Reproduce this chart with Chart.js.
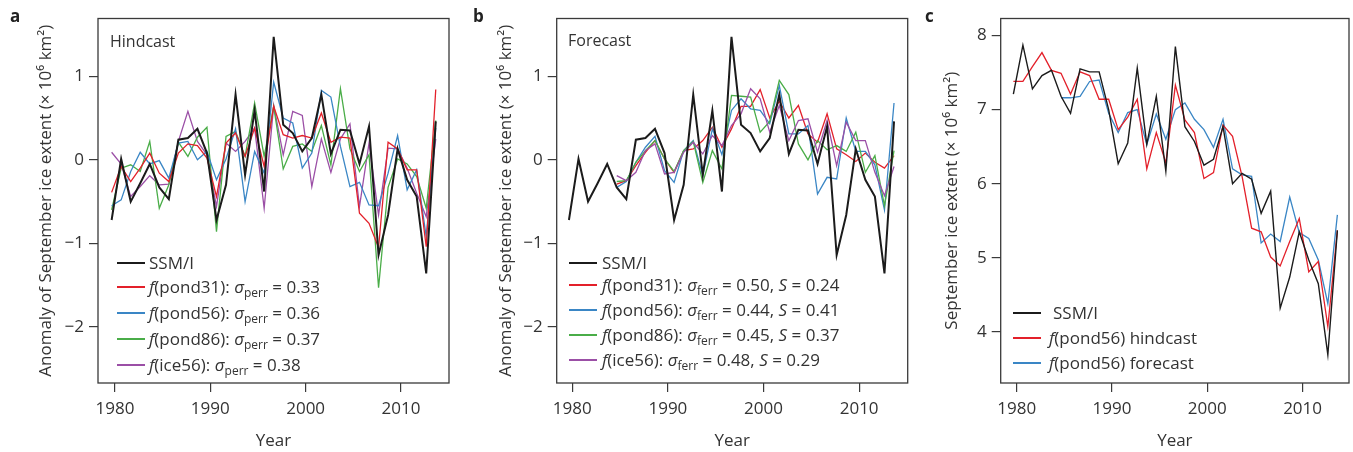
<!DOCTYPE html>
<html>
<head>
<meta charset="utf-8">
<script src="https://cdn.jsdelivr.net/npm/chart.js@4.4.1/dist/chart.umd.min.js"></script>
<style>
  body { margin: 0; background: #fff; }
  #page { position: relative; width: 1353px; height: 452px; overflow: hidden; font-family: 'Open Sans', sans-serif; color: #333; }
  canvas { position: absolute; top: 0; }
  .tag { position: absolute; top: 4px; font-size: 17px; font-weight: bold; color: #222; }
  .note { position: absolute; font-size: 16px; line-height: 20px; }
  .ln { position: absolute; height: 2px; width: 28px; }
  .lt { position: absolute; font-size: 17px; line-height: 22px; white-space: nowrap; }
  .lt i { font-style: italic; }
  .lt sub { font-size: 12px; vertical-align: -4px; line-height: 0; }
</style>
</head>
<body>
<div id="page">
  <canvas id="pa" width="460" height="452" style="left:0"></canvas>
  <canvas id="pb" width="455" height="452" style="left:462px"></canvas>
  <canvas id="pc" width="436" height="452" style="left:917px"></canvas>

  <div class="tag" style="left:10px">a</div>
  <div class="tag" style="left:473px">b</div>
  <div class="tag" style="left:925px">c</div>

  <div class="note" style="left:110px;top:31px">Hindcast</div>
  <div class="note" style="left:568px;top:30px">Forecast</div>

  <!-- legend a -->
  <div class="ln" style="left:117px;top:262px;background:#1b1b1b"></div>
  <div class="lt" style="left:149px;top:252px">SSM/I</div>
  <div class="ln" style="left:117px;top:286px;background:#e3202a"></div>
  <div class="lt" style="left:149px;top:276px"><i>f</i>(pond31): <i>σ</i><sub>perr</sub> = 0.33</div>
  <div class="ln" style="left:117px;top:312px;background:#3a86c5"></div>
  <div class="lt" style="left:149px;top:302px"><i>f</i>(pond56): <i>σ</i><sub>perr</sub> = 0.36</div>
  <div class="ln" style="left:117px;top:338px;background:#4aad48"></div>
  <div class="lt" style="left:149px;top:328px"><i>f</i>(pond86): <i>σ</i><sub>perr</sub> = 0.37</div>
  <div class="ln" style="left:117px;top:364px;background:#9b4fa6"></div>
  <div class="lt" style="left:149px;top:354px"><i>f</i>(ice56): <i>σ</i><sub>perr</sub> = 0.38</div>

  <!-- legend b -->
  <div class="ln" style="left:569px;top:262px;background:#1b1b1b"></div>
  <div class="lt" style="left:602px;top:252px">SSM/I</div>
  <div class="ln" style="left:569px;top:284px;background:#e3202a"></div>
  <div class="lt" style="left:602px;top:274px"><i>f</i>(pond31): <i>σ</i><sub>ferr</sub> = 0.50, <i>S</i> = 0.24</div>
  <div class="ln" style="left:569px;top:309px;background:#3a86c5"></div>
  <div class="lt" style="left:602px;top:299px"><i>f</i>(pond56): <i>σ</i><sub>ferr</sub> = 0.44, <i>S</i> = 0.41</div>
  <div class="ln" style="left:569px;top:334px;background:#4aad48"></div>
  <div class="lt" style="left:602px;top:324px"><i>f</i>(pond86): <i>σ</i><sub>ferr</sub> = 0.45, <i>S</i> = 0.37</div>
  <div class="ln" style="left:569px;top:359px;background:#9b4fa6"></div>
  <div class="lt" style="left:602px;top:349px"><i>f</i>(ice56): <i>σ</i><sub>ferr</sub> = 0.48, <i>S</i> = 0.29</div>

  <!-- legend c -->
  <div class="ln" style="left:1013px;top:312px;background:#1b1b1b"></div>
  <div class="lt" style="left:1053px;top:302px">SSM/I</div>
  <div class="ln" style="left:1013px;top:337px;background:#e3202a"></div>
  <div class="lt" style="left:1049px;top:327px"><i>f</i>(pond56) hindcast</div>
  <div class="ln" style="left:1013px;top:362px;background:#3a86c5"></div>
  <div class="lt" style="left:1049px;top:352px"><i>f</i>(pond56) forecast</div>
</div>

<script>
const years = [1979, 1980, 1981, 1982, 1983, 1984, 1985, 1986, 1987, 1988, 1989, 1990, 1991, 1992, 1993, 1994, 1995, 1996, 1997,
  1998, 1999, 2000, 2001, 2002, 2003, 2004, 2005, 2006, 2007, 2008, 2009, 2010, 2011, 2012, 2013];
const forecastYears = [1984, 1985, 1986, 1987, 1988, 1989, 1990, 1991, 1992, 1993, 1994, 1995, 1996, 1997,
  1998, 1999, 2000, 2001, 2002, 2003, 2004, 2005, 2006, 2007, 2008, 2009, 2010, 2011, 2012, 2013];

const yearTicks = [1980, 1990, 2000, 2010];
const anomTicks = [-2, -1, 0, 1];
const extentTicks = [4, 5, 6, 7, 8];

// anomalies (10^6 km2), panels a and b
const ssmiAnom = [-0.72, 0.01, -0.5, -0.28, -0.05, -0.33, -0.47, 0.24, 0.26, 0.37, 0.08, -0.72, -0.3, 0.78, -0.18, 0.59, -0.38,
  1.47, 0.42, 0.32, 0.1, 0.26, 0.78, 0.07, 0.36, 0.35, -0.05, 0.4, -1.14, -0.66, 0.13, -0.24, -0.44, -1.36, 0.46];

const hindPond31 = [-0.39, -0.08, -0.26, -0.1, 0.08, -0.16, -0.26, 0.08, 0.19, 0.17, 0.02, -0.44, 0.2, 0.32, 0.04, 0.38, -0.08,
  0.64, 0.3, 0.26, 0.29, 0.26, 0.56, 0.21, 0.27, 0.26, -0.64, -0.76, -1.05, 0.21, 0.13, -0.12, -0.12, -1.04, 0.84];
const hindPond56 = [-0.55, -0.48, -0.14, 0.09, -0.05, -0.01, -0.22, 0.2, 0.22, 0.0, 0.1, -0.24, 0.01, 0.37, -0.5, 0.1, -0.16,
  0.93, 0.5, 0.44, -0.1, 0.08, 0.83, 0.75, 0.16, -0.32, -0.27, -0.54, -0.55, -0.16, 0.29, -0.36, -0.12, -0.92, 0.38];
const hindPond86 = [-0.6, -0.1, -0.06, -0.14, 0.22, -0.58, -0.3, 0.21, 0.04, 0.27, 0.39, -0.86, 0.28, 0.34, 0.04, 0.68, 0.04,
  0.64, -0.11, 0.16, 0.19, 0.1, 0.41, -0.06, 0.85, 0.13, -0.14, 0.06, -1.53, -0.33, 0.01, -0.05, -0.2, -0.58, 0.47];
const hindIce56 = [0.09, -0.05, -0.44, -0.32, -0.19, -0.3, -0.29, 0.22, 0.58, 0.22, 0.06, -0.56, 0.2, 0.1, 0.22, 0.38, -0.58,
  0.65, 0.06, 0.58, 0.53, -0.32, 0.25, -0.15, 0.25, 0.43, -0.56, 0.2, -0.66, 0.14, 0.13, -0.1, -0.4, -0.68, 0.25];

const forePond31 = [-0.29, -0.25, -0.07, 0.09, 0.23, 0.01, -0.15, 0.11, 0.13, 0.23, 0.39, 0.15, 0.37, 0.64, 0.64, 0.84, 0.5,
  0.7, 0.5, 0.65, 0.31, 0.21, 0.55, 0.13, 0.06, -0.02, 0.08, -0.03, -0.1, 0.05];
const forePond56 = [-0.33, -0.26, -0.03, 0.15, 0.28, -0.13, -0.27, 0.11, 0.23, -0.19, 0.37, 0.06, 0.59, 0.73, 0.61, 0.59, 0.43,
  0.89, 0.31, 0.31, 0.41, -0.41, -0.21, -0.23, 0.5, 0.1, 0.1, -0.06, -0.6, 0.68];
const forePond86 = [-0.26, -0.25, -0.03, 0.11, 0.23, 0.01, -0.14, 0.11, 0.22, -0.27, 0.11, -0.11, 0.77, 0.76, 0.75, 0.33, 0.46,
  0.95, 0.78, 0.19, 0.0, 0.23, 0.12, 0.17, 0.1, 0.33, -0.15, 0.05, -0.55, 0.11];
const foreIce56 = [-0.19, -0.25, -0.15, 0.11, 0.19, -0.17, -0.15, 0.09, 0.21, 0.07, 0.29, 0.17, 0.41, 0.55, 0.85, 0.73, 0.33,
  0.65, 0.23, 0.47, 0.49, 0.09, 0.47, -0.07, 0.45, 0.23, 0.23, -0.15, -0.43, -0.08];

// September extent (10^6 km2), panel c
const ssmiExtent = [7.21, 7.87, 7.28, 7.46, 7.53, 7.18, 6.95, 7.55, 7.51, 7.51, 7.0, 6.27, 6.55, 7.56, 6.53, 7.18, 6.17,
  7.85, 6.77, 6.57, 6.25, 6.33, 6.77, 6.0, 6.14, 6.06, 5.6, 5.9, 4.32, 4.74, 5.35, 4.97, 4.65, 3.69, 5.37];
const hindExtent = [7.38, 7.38, 7.58, 7.77, 7.53, 7.49, 7.21, 7.51, 7.46, 7.14, 7.14, 6.73, 6.9, 7.14, 6.2, 6.69, 6.28,
  7.33, 6.86, 6.69, 6.07, 6.15, 6.79, 6.64, 6.1, 5.4, 5.35, 5.01, 4.89, 5.22, 5.53, 4.81, 4.95, 4.07, 5.37];
const foreExtent = [7.16, 7.16, 7.18, 7.38, 7.4, 6.95, 6.69, 6.96, 7.0, 6.53, 6.94, 6.6, 7.0, 7.09, 6.87, 6.73, 6.49,
  6.87, 6.2, 6.12, 6.1, 5.2, 5.32, 5.22, 5.82, 5.34, 5.26, 4.97, 4.38, 5.58];

const BLACK = '#1b1b1b', RED = '#e3202a', BLUE = '#3a86c5', GREEN = '#4aad48', PURPLE = '#9b4fa6';
const INK = '#333';
const FONT = {family: "'Open Sans', sans-serif", size: 17};

// in the original each year's point sits a bit right of its tick
const X_SHIFT = 0.65;
const pts = (xs, ys) => xs.map((x, i) => ({x: x + X_SHIFT, y: ys[i]}));
const minus = v => v < 0 ? '\u2212' + Math.abs(v) : String(v);

// full box round the plot area
const frame = {
  id: 'frame',
  afterDatasetsDraw(chart) {
    const {ctx, chartArea: a} = chart;
    ctx.save();
    ctx.strokeStyle = '#3a3a3a';
    ctx.lineWidth = 1.3;
    ctx.strokeRect(a.left, a.top, a.right - a.left, a.bottom - a.top);
    ctx.restore();
  }
};

function makePanel(id, cfg) {
  new Chart(document.getElementById(id), {
    type: 'line',
    data: {
      datasets: cfg.series.map(s => ({
        data: pts(s.x, s.y), borderColor: s.color, borderWidth: s.width,
        pointRadius: 0, tension: 0, fill: false
      }))
    },
    options: {
      responsive: false,
      animation: false,
      layout: {padding: {top: 18.5, right: cfg.padRight, bottom: 0, left: 0}},
      plugins: {legend: {display: false}, tooltip: {enabled: false}},
      scales: {
        x: {
          type: 'linear', min: cfg.xMin, max: cfg.xMax,
          afterBuildTicks: s => { s.ticks = yearTicks.map(v => ({value: v})); },
          afterFit: s => { s.height = 69; },
          grid: {drawOnChartArea: false, drawTicks: true, tickLength: 9, tickColor: '#3a3a3a', lineWidth: 1.2},
          border: {display: false},
          ticks: {font: FONT, color: INK, padding: 7, maxRotation: 0, callback: v => String(v)},
          title: {display: true, text: 'Year', font: FONT, color: INK, padding: {top: 0, bottom: 1}}
        },
        y: {
          type: 'linear', min: cfg.yMin, max: cfg.yMax,
          afterBuildTicks: s => { s.ticks = cfg.yTicks.map(v => ({value: v})); },
          afterFit: s => { s.width = cfg.yWidth; },
          grid: {drawOnChartArea: false, drawTicks: true, tickLength: 9, tickColor: '#3a3a3a', lineWidth: 1.2},
          border: {display: false},
          ticks: {font: FONT, color: INK, padding: 5, callback: minus},
          title: {display: true, text: cfg.yTitle, font: FONT, color: INK, padding: {top: cfg.titlePad, bottom: 0}}
        }
      }
    },
    plugins: [frame]
  });
}

const anomTitle = 'Anomaly of September ice extent (\u00d7 10\u2076 km\u00b2)';

makePanel('pa', {
  xMin: 1978.22, xMax: 2015.04, yMin: -2.67, yMax: 1.69, yTicks: anomTicks,
  yWidth: 98, padRight: 11, titlePad: 36, yTitle: anomTitle,
  series: [
    {x: years, y: ssmiAnom, color: BLACK, width: 2},
    {x: years, y: hindPond31, color: RED, width: 1.3},
    {x: years, y: hindPond56, color: BLUE, width: 1.3},
    {x: years, y: hindPond86, color: GREEN, width: 1.3},
    {x: years, y: hindIce56, color: PURPLE, width: 1.3}
  ]
});

makePanel('pb', {
  xMin: 1978.37, xMax: 2015.08, yMin: -2.67, yMax: 1.69, yTicks: anomTicks,
  yWidth: 94.7, padRight: 9.3, titlePad: 34, yTitle: anomTitle,
  series: [
    {x: years, y: ssmiAnom, color: BLACK, width: 2},
    {x: forecastYears, y: foreIce56, color: PURPLE, width: 1.3},
    {x: forecastYears, y: forePond86, color: GREEN, width: 1.3},
    {x: forecastYears, y: forePond56, color: BLUE, width: 1.3},
    {x: forecastYears, y: forePond31, color: RED, width: 1.3}
  ]
});

makePanel('pc', {
  xMin: 1978.32, xMax: 2014.87, yMin: 3.31, yMax: 8.23, yTicks: extentTicks,
  yWidth: 83.7, padRight: 4, titlePad: 25, yTitle: 'September ice extent (\u00d7 10\u2076 km\u00b2)',
  series: [
    {x: years, y: ssmiExtent, color: BLACK, width: 1.4},
    {x: years, y: hindExtent, color: RED, width: 1.3},
    {x: forecastYears, y: foreExtent, color: BLUE, width: 1.3}
  ]
});
</script>
</body>
</html>
